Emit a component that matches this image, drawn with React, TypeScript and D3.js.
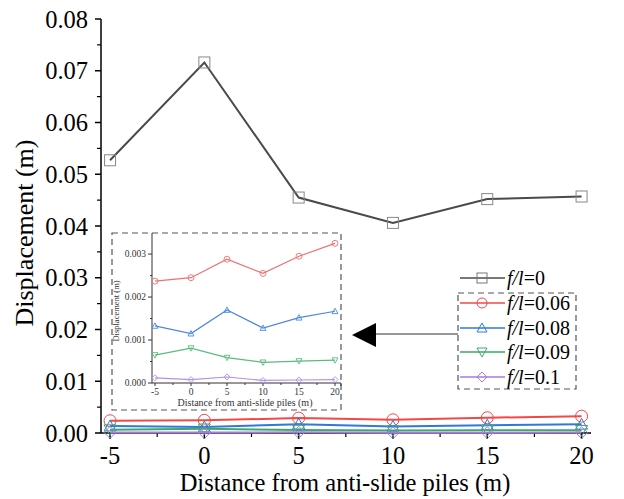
import React from "react";
import * as d3 from "d3";

const distances = [-5, 0, 5, 10, 15, 20];
const s0 = [0.0527, 0.0716, 0.0455, 0.0406, 0.0452, 0.0457];
const s06 = [0.00237, 0.00245, 0.00288, 0.00255, 0.00295, 0.00325];
const s08 = [0.00133, 0.00115, 0.0017, 0.00128, 0.00152, 0.00167];
const s09 = [0.00065, 0.00081, 0.00059, 0.00048, 0.00051, 0.00053];
const s10 = [0.00012, 0.00008, 0.00014, 0.00006, 0.00007, 0.00008];
const seriesLabels = ["0", "0.06", "0.08", "0.09", "0.1"];
const xTicks = [-5, 0, 5, 10, 15, 20];
const yTicks = [0, 0.01, 0.02, 0.03, 0.04, 0.05, 0.06, 0.07, 0.08];
const insetYTicks = [0, 0.001, 0.002, 0.003];

const FONT = "'Liberation Serif', 'Times New Roman', serif";

type Series = { values: number[]; color: string; insetColor: string; marker: string; label: string };
const series: Series[] = [
  { values: s0, color: "#4a4a4a", insetColor: "#4a4a4a", marker: "square", label: seriesLabels[0] },
  { values: s06, color: "#f24848", insetColor: "#ef7070", marker: "circle", label: seriesLabels[1] },
  { values: s08, color: "#2f78e0", insetColor: "#4a88e0", marker: "triangle", label: seriesLabels[2] },
  { values: s09, color: "#3aaa6a", insetColor: "#5cba80", marker: "triangleDown", label: seriesLabels[3] },
  { values: s10, color: "#a87ae0", insetColor: "#b88ee8", marker: "diamond", label: seriesLabels[4] },
];

function Marker({ type, x, y, size, stroke, sw }: { type: string; x: number; y: number; size: number; stroke: string; sw: number }) {
  const h = size / 2;
  if (type === "square") return <rect x={x - h} y={y - h} width={size} height={size} fill="none" stroke={stroke} strokeWidth={sw} />;
  if (type === "circle") return <circle cx={x} cy={y} r={h} fill="none" stroke={stroke} strokeWidth={sw} />;
  if (type === "triangle")
    return <path d={`M${x},${y - h}L${x + h},${y + h * 0.8}L${x - h},${y + h * 0.8}Z`} fill="none" stroke={stroke} strokeWidth={sw} />;
  if (type === "triangleDown")
    return <path d={`M${x},${y + h}L${x + h},${y - h * 0.8}L${x - h},${y - h * 0.8}Z`} fill="none" stroke={stroke} strokeWidth={sw} />;
  return <path d={`M${x},${y - h}L${x + h},${y}L${x},${y + h}L${x - h},${y}Z`} fill="none" stroke={stroke} strokeWidth={sw} />;
}

export default function App() {
  const x = d3.scaleLinear().domain([-5.48, 20.5]).range([101, 591]);
  const y = d3.scaleLinear().domain([0, 0.08]).range([433, 19]);
  const ix = d3.scaleLinear().domain([-5, 20]).range([155, 335]);
  const iy = d3.scaleLinear().domain([0, 0.00349]).range([383, 233]);

  const line = (sx: any, sy: any) =>
    d3.line<number>().x((_, i) => sx(distances[i])).y((v) => sy(v));

  const yMinor = d3.range(0.005, 0.08, 0.01);
  const xMinor = [-2.5, 2.5, 7.5, 12.5, 17.5];
  const iyMinor = [0.0005, 0.0015, 0.0025, 0.0035].filter((v) => v <= 0.00349);
  const ixMinor = [-2.5, 2.5, 7.5, 12.5, 17.5];

  const legendRows = [278, 303, 328, 352, 377];

  return (
    <svg width={624} height={499} style={{ position: "absolute", left: 0, top: 0, background: "#fff" }} fontFamily={FONT}>
      {/* main axes */}
      <line x1={101} x2={101} y1={y(0.08)} y2={433} stroke="#000" strokeWidth={1.5} />
      <line x1={101} x2={591} y1={433} y2={433} stroke="#000" strokeWidth={1.5} />
      {yTicks.map((t) => (
        <g key={"yt" + t}>
          <line x1={95} x2={101} y1={y(t)} y2={y(t)} stroke="#000" strokeWidth={1.5} />
          <text x={88} y={y(t)} dy="0.35em" textAnchor="end" fontSize={24.5}>
            {t.toFixed(2)}
          </text>
        </g>
      ))}
      {yMinor.map((t) => (
        <line key={"ym" + t} x1={97} x2={101} y1={y(t)} y2={y(t)} stroke="#000" strokeWidth={1.2} />
      ))}
      {xTicks.map((t) => (
        <g key={"xt" + t}>
          <line x1={x(t)} x2={x(t)} y1={433} y2={439} stroke="#000" strokeWidth={1.5} />
          <text x={x(t)} y={464} textAnchor="middle" fontSize={24.5}>
            {t}
          </text>
        </g>
      ))}
      {xMinor.map((t) => (
        <line key={"xm" + t} x1={x(t)} x2={x(t)} y1={433} y2={437} stroke="#000" strokeWidth={1.2} />
      ))}
      <text x={345} y={491} textAnchor="middle" fontSize={24.5}>
        Distance from anti-slide piles (m)
      </text>
      <text transform={`translate(33,233) rotate(-90)`} textAnchor="middle" fontSize={26}>
        Displacement (m)
      </text>

      {/* main series */}
      {series.map((s, k) => (
        <g key={"s" + k}>
          <path d={line(x, y)(s.values) || ""} fill="none" stroke={s.color} strokeWidth={2} />
          {s.values.map((v, i) => (
            <Marker key={i} type={s.marker} x={x(distances[i])} y={y(v)} size={k === 0 ? 11 : 12} stroke={k === 0 ? "#888" : s.color} sw={1} />
          ))}
        </g>
      ))}

      {/* inset */}
      <rect x={112} y={233} width={229} height={177} fill="#fff" stroke="#555" strokeWidth={1.2} strokeDasharray="6,4" />
      <line x1={152} x2={152} y1={233} y2={383} stroke="#333" strokeWidth={1} />
      <line x1={152} x2={341} y1={383} y2={383} stroke="#333" strokeWidth={1} />
      {insetYTicks.map((t) => (
        <g key={"iyt" + t}>
          <line x1={148} x2={152} y1={iy(t)} y2={iy(t)} stroke="#333" />
          <text x={146} y={iy(t)} dy="0.35em" textAnchor="end" fontSize={9.5} fill="#333">
            {t.toFixed(3)}
          </text>
        </g>
      ))}
      {iyMinor.map((t) => (
        <line key={"iym" + t} x1={150} x2={152} y1={iy(t)} y2={iy(t)} stroke="#333" />
      ))}
      {xTicks.map((t) => (
        <g key={"ixt" + t}>
          <line x1={ix(t)} x2={ix(t)} y1={383} y2={386} stroke="#333" />
          <text x={ix(t)} y={395} textAnchor="middle" fontSize={9.5} fill="#333">
            {t}
          </text>
        </g>
      ))}
      {ixMinor.map((t) => (
        <line key={"ixm" + t} x1={ix(t)} x2={ix(t)} y1={383} y2={385} stroke="#333" />
      ))}
      <line x1={341} x2={341} y1={383} y2={386} stroke="#333" />
      <text x={245} y={406} textAnchor="middle" fontSize={10} fill="#333">
        Distance from anti-slide piles (m)
      </text>
      <text transform={`translate(119,311) rotate(-90)`} textAnchor="middle" fontSize={8.5} fill="#333">
        Displacement (m)
      </text>
      {series.slice(1).map((s, k) => (
        <g key={"is" + k}>
          <path d={line(ix, iy)(s.values) || ""} fill="none" stroke={s.insetColor} strokeWidth={1.2} />
          {s.values.map((v, i) => (
            <Marker key={i} type={s.marker} x={ix(distances[i])} y={iy(v)} size={6} stroke={s.insetColor} sw={0.9} />
          ))}
        </g>
      ))}

      {/* arrow */}
      <line x1={458} x2={372} y1={334} y2={334} stroke="#333" strokeWidth={1.2} />
      <path d="M352,335L376,323L376,347Z" fill="#000" />

      {/* legend */}
      <rect x={458} y={293} width={118} height={96} fill="none" stroke="#555" strokeWidth={1.2} strokeDasharray="6,4" />
      {series.map((s, k) => (
        <g key={"lg" + k}>
          <line x1={460} x2={505} y1={legendRows[k]} y2={legendRows[k]} stroke={s.color} strokeWidth={1.5} />
          <Marker type={s.marker} x={482} y={legendRows[k]} size={10} stroke={k === 0 ? "#777" : s.color} sw={1} />
          <text x={507} y={legendRows[k]} dy="0.35em" fontSize={20}>
            <tspan fontStyle="italic">f/l</tspan>={s.label}
          </text>
        </g>
      ))}
    </svg>
  );
}
